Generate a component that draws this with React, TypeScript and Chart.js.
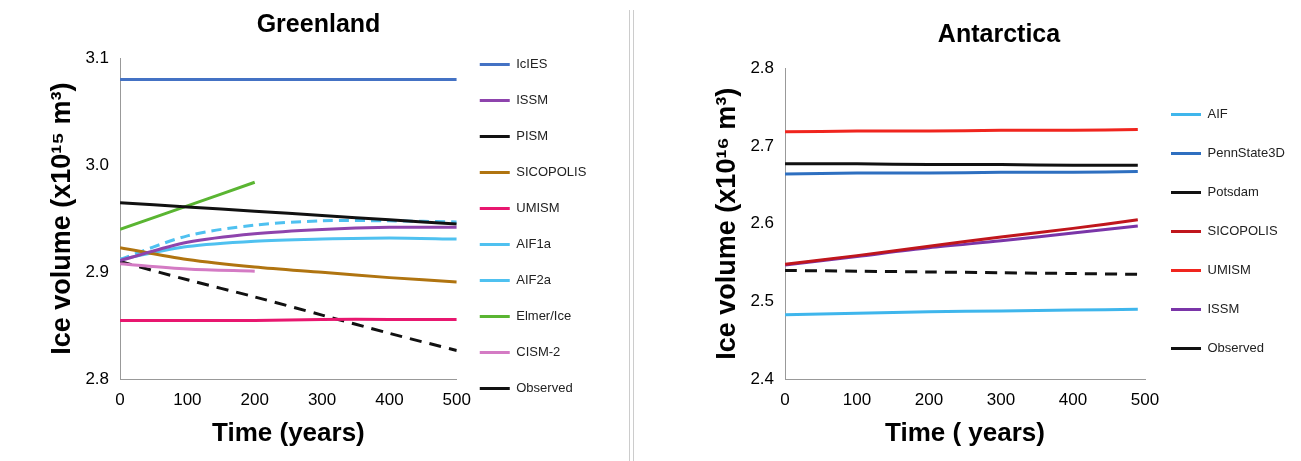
import { useEffect, useRef } from 'react'
import Chart from 'chart.js/auto'

const years = [0, 100, 200, 300, 400, 500]
const yearsShort = [0, 100, 200]
const yearsAnt = [0, 100, 200, 300, 400, 490]

const gIcIES = [3.08, 3.08, 3.08, 3.08, 3.08, 3.08]
const gISSM = [2.911, 2.928, 2.936, 2.94, 2.942, 2.942]
const gPISM = [2.965, 2.961, 2.957, 2.953, 2.949, 2.945]
const gSICOPOLIS = [2.923, 2.912, 2.905, 2.9, 2.895, 2.891]
const gUMISM = [2.855, 2.855, 2.855, 2.856, 2.856, 2.856]
const gAIF1a = [2.912, 2.924, 2.929, 2.931, 2.932, 2.931]
const gAIF2a = [2.912, 2.934, 2.944, 2.948, 2.948, 2.947]
const gElmer = [2.94, 2.962, 2.984]
const gCISM = [2.908, 2.903, 2.901]
const gObserved = [2.91, 2.893, 2.877, 2.86, 2.843, 2.827]

const aAIF = [2.483, 2.485, 2.487, 2.488, 2.489, 2.49]
const aPennState = [2.664, 2.665, 2.665, 2.666, 2.666, 2.667]
const aPotsdam = [2.677, 2.677, 2.676, 2.676, 2.675, 2.675]
const aSICOPOLIS = [2.548, 2.559, 2.571, 2.583, 2.594, 2.605]
const aUMISM = [2.718, 2.719, 2.719, 2.72, 2.72, 2.721]
const aISSM = [2.547, 2.558, 2.569, 2.578, 2.588, 2.597]
const aObserved = [2.54, 2.539, 2.538, 2.537, 2.536, 2.535]

const pts = (xs: number[], ys: number[]) => ys.map((y, i) => ({ x: xs[i], y }))

const ds = (label: string, xs: number[], ys: number[], color: string, dash: number[] = []) => ({
  label, data: pts(xs, ys), borderColor: color, backgroundColor: color,
  borderWidth: 3, borderDash: dash, pointRadius: 0, tension: 0.3,
})

function makeOptions(title: string, yMin: number, yMax: number, yTitle: string, xTitle: string, pad: any, legendPad: number) {
  return {
    animation: false as const,
    responsive: false,
    layout: { padding: pad },
    plugins: {
      title: { display: true, text: title, color: '#000', font: { size: 25, weight: 'bold' as const, family: 'Liberation Sans' }, padding: { top: 10, bottom: 18 } },
      legend: {
        position: 'right' as const,
        labels: { usePointStyle: true, pointStyle: 'line', pointStyleWidth: 30, boxWidth: 30, color: '#222', padding: legendPad, font: { size: 13, family: 'Liberation Sans' } },
      },
      tooltip: { enabled: false },
    },
    scales: {
      x: {
        type: 'linear' as const, min: 0, max: 500,
        ticks: { stepSize: 100, color: '#000', font: { size: 17, family: 'Liberation Sans' } },
        grid: { display: false, drawTicks: true, color: '#999' },
        border: { color: '#999' },
        title: { display: true, text: xTitle, color: '#000', font: { size: 26, weight: 'bold' as const, family: 'Liberation Sans' } },
      },
      y: {
        min: yMin, max: yMax,
        ticks: { stepSize: 0.1, color: '#000', font: { size: 17, family: 'Liberation Sans' }, callback: (v: any) => Number(v).toFixed(1) },
        grid: { display: false, color: '#999' },
        border: { color: '#999' },
        title: { display: true, text: yTitle, color: '#000', font: { size: 27, weight: 'bold' as const, family: 'Liberation Sans' } },
      },
    },
  }
}

export default function App() {
  const gRef = useRef<HTMLCanvasElement>(null)
  const aRef = useRef<HTMLCanvasElement>(null)

  useEffect(() => {
    document.body.style.margin = '0'
    const g = new Chart(gRef.current!, {
      type: 'line',
      data: {
        datasets: [
          ds('IcIES', years, gIcIES, '#4472c4'),
          ds('ISSM', years, gISSM, '#8e44ad'),
          ds('PISM', years, gPISM, '#111111'),
          ds('SICOPOLIS', years, gSICOPOLIS, '#b07410'),
          ds('UMISM', years, gUMISM, '#e8176f'),
          ds('AIF1a', years, gAIF1a, '#4fc1f0'),
          ds('AIF2a', years, gAIF2a, '#4fc1f0', [10, 6]),
          ds('Elmer/Ice', yearsShort, gElmer, '#5ab532'),
          ds('CISM-2', yearsShort, gCISM, '#d47bc4'),
          ds('Observed', years, gObserved, '#111111', [12, 8]),
        ],
      },
      options: makeOptions('Greenland', 2.8, 3.1, 'Ice volume (x10¹⁵ m³)', 'Time (years)', { left: 42, right: 30, bottom: 8 }, 23) as any,
    })
    const a = new Chart(aRef.current!, {
      type: 'line',
      data: {
        datasets: [
          ds('AIF', yearsAnt, aAIF, '#3fb6ec'),
          ds('PennState3D', yearsAnt, aPennState, '#2e6fc0'),
          ds('Potsdam', yearsAnt, aPotsdam, '#111111'),
          ds('SICOPOLIS', yearsAnt, aSICOPOLIS, '#c0161c'),
          ds('UMISM', yearsAnt, aUMISM, '#f0251e'),
          ds('ISSM', yearsAnt, aISSM, '#7a35a8'),
          ds('Observed', yearsAnt, aObserved, '#111111', [12, 8]),
        ],
      },
      options: makeOptions('Antarctica', 2.4, 2.8, 'Ice volume (x10¹⁶ m³)', 'Time ( years)', { left: 66, right: 10, top: 10, bottom: 8 }, 26) as any,
    })
    return () => { g.destroy(); a.destroy() }
  }, [])

  return (
    <div style={{ position: 'relative', width: 1301, height: 461, background: '#fff' }}>
      <canvas ref={gRef} width={625} height={461} style={{ position: 'absolute', left: 0, top: 0 }} />
      <div style={{ position: 'absolute', left: 629, top: 10, width: 3, height: 451, borderLeft: '1px solid #ccc', borderRight: '1px solid #ccc' }} />
      <canvas ref={aRef} width={660} height={461} style={{ position: 'absolute', left: 641, top: 0 }} />
    </div>
  )
}
